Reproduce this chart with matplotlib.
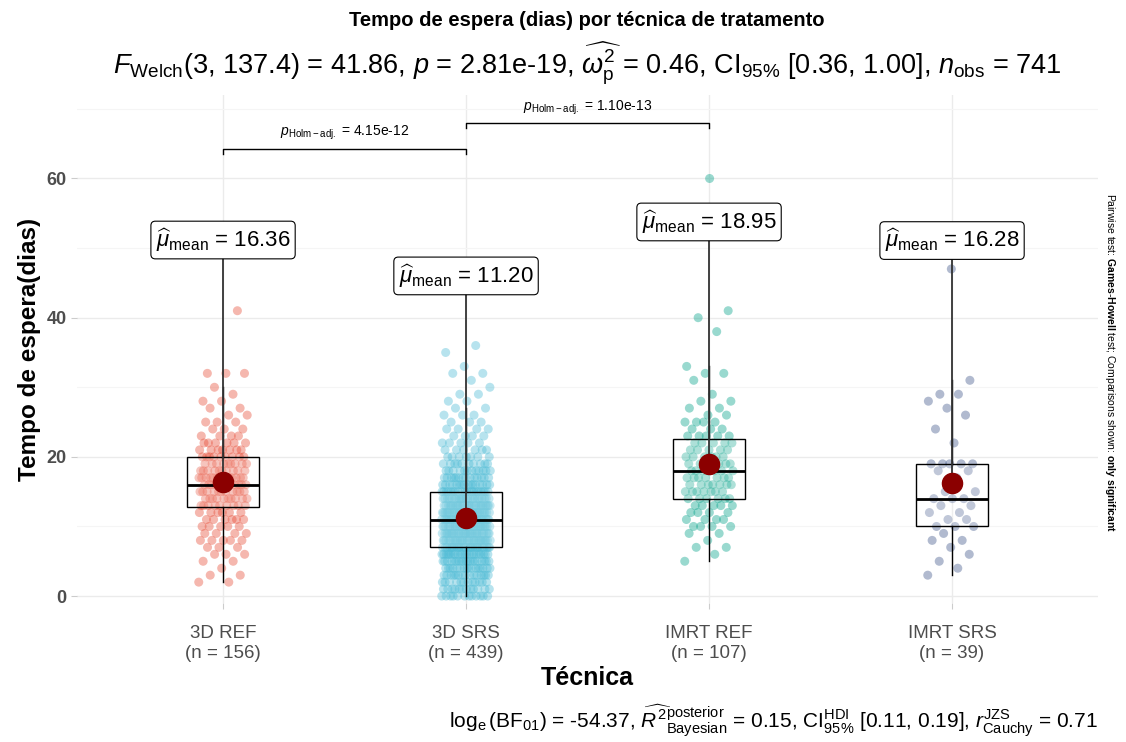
import numpy as np
import matplotlib
matplotlib.use("Agg")
import matplotlib.pyplot as plt

plt.rcParams['font.family'] = ['Liberation Sans', 'DejaVu Sans']
plt.rcParams['mathtext.fontset'] = 'custom'
plt.rcParams['mathtext.rm'] = 'Liberation Sans'
plt.rcParams['mathtext.it'] = 'Liberation Sans:italic'
plt.rcParams['mathtext.bf'] = 'Liberation Sans:bold'

# dados: tempo de espera (dias) -> valor e frequencia por tecnica
tecnicas = ['3D REF', '3D SRS', 'IMRT REF', 'IMRT SRS']
ref3d_val = [2, 3, 4, 5, 6, 7, 8, 9, 10, 11, 12, 13, 14, 15, 16, 17, 18, 19, 20, 21, 22, 23, 24, 25, 26, 27, 28, 29, 30, 32, 41]
ref3d_cnt = [2, 2, 1, 2, 3, 3, 5, 4, 5, 6, 6, 9, 10, 11, 12, 12, 10, 9, 9, 7, 6, 4, 3, 3, 2, 2, 2, 1, 1, 3, 1]
srs3d_val = [0, 1, 2, 3, 4, 5, 6, 7, 8, 9, 10, 11, 12, 13, 14, 15, 16, 17, 18, 19, 20, 21, 22, 23, 24, 25, 26, 27, 28, 29, 30, 31, 32, 33, 35, 36]
srs3d_cnt = [12, 12, 12, 15, 16, 19, 22, 26, 27, 28, 28, 29, 28, 26, 22, 20, 16, 14, 12, 10, 7, 6, 5, 4, 4, 3, 3, 2, 2, 2, 1, 1, 2, 1, 1, 1]
refimrt_val = [5, 6, 7, 8, 9, 10, 11, 12, 13, 14, 15, 16, 17, 18, 19, 20, 21, 22, 23, 24, 25, 26, 27, 28, 29, 31, 32, 33, 38, 40, 41, 60]
refimrt_cnt = [1, 1, 2, 1, 2, 4, 4, 4, 5, 6, 7, 7, 7, 7, 6, 6, 5, 5, 5, 3, 4, 2, 2, 2, 1, 1, 2, 1, 1, 1, 1, 1]
srsimrt_val = [3, 4, 5, 6, 7, 8, 9, 10, 11, 12, 13, 14, 15, 17, 18, 19, 22, 24, 26, 27, 28, 29, 31, 47]
srsimrt_cnt = [1, 1, 1, 1, 1, 2, 1, 3, 2, 2, 2, 3, 2, 1, 2, 5, 1, 1, 1, 1, 1, 2, 1, 1]

cores = ['#E64B35', '#4DBBD5', '#00A087', '#3C5488']

grupos = [np.repeat(ref3d_val, ref3d_cnt), np.repeat(srs3d_val, srs3d_cnt),
          np.repeat(refimrt_val, refimrt_cnt), np.repeat(srsimrt_val, srsimrt_cnt)]

fig = plt.figure(figsize=(11.26, 7.42), dpi=100)
ax = fig.add_axes([0.0686, 0.1873, 0.9064, 0.6847])

pos = np.arange(1, 5)
for i, (g, c) in enumerate(zip(grupos, cores)):
    # deslocamento horizontal deterministico (sequencia aurea)
    k = np.arange(len(g))
    dx = ((k * 0.6180339887) % 1 - 0.5) * 0.2
    ax.scatter(pos[i] + dx, g, s=42, color=c, alpha=0.4, edgecolors='none', zorder=2)

bp = ax.boxplot(grupos, positions=pos, widths=0.3, showfliers=False, patch_artist=True,
                whis=1.5, showcaps=False,
                boxprops=dict(facecolor=(1, 1, 1, 0.2), edgecolor='black', linewidth=1.0),
                medianprops=dict(color='black', linewidth=2.0),
                whiskerprops=dict(color='black', linewidth=1.0), zorder=3)

medias = [g.mean() for g in grupos]
ax.scatter(pos, medias, s=210, color='#8B0000', zorder=5)

# rotulos das medias (deslocados como no ggrepel)
for i, m in enumerate(medias):
    ly = m + 34.8
    ax.plot([pos[i], pos[i]], [m, ly], color='#333333', lw=1.3, zorder=4)
    ax.text(pos[i], ly, r'$\widehat{\mu}_{\mathrm{mean}}$ = %.2f' % m, ha='center', va='center',
            fontsize=16, zorder=6,
            bbox=dict(boxstyle='round,pad=0.22,rounding_size=0.2', fc='white', ec='black', lw=0.8))

# comparacoes par a par
comp = [(1, 2, 64.3, r'$p_{\mathrm{Holm-adj.}}$ = 4.15e-12'),
        (2, 3, 68.0, r'$p_{\mathrm{Holm-adj.}}$ = 1.10e-13')]
for a, b, y, lab in comp:
    ax.plot([a, a, b, b], [y - 0.8, y, y, y - 0.8], color='black', lw=1.0, zorder=4)
    ax.text((a + b) / 2, y + 0.9, lab, ha='center', va='bottom', fontsize=10)

ax.set_xlim(0.4, 4.6)
ax.set_ylim(-1, 72)
ax.set_yticks([0, 20, 40, 60])
ax.set_yticks([10, 30, 50, 70], minor=True)
ax.set_xticks(pos)
ax.set_xticklabels(['%s\n(n = %d)' % (t, len(g)) for t, g in zip(tecnicas, grupos)],
                   fontsize=13.5, color='#4D4D4D', linespacing=1.2)
ax.tick_params(axis='y', labelsize=13, labelcolor='#4D4D4D', color='#CCCCCC', length=4)
ax.tick_params(axis='x', color='#CCCCCC', length=4, pad=12)
ax.tick_params(axis='y', which='minor', length=0)
for lab in ax.get_yticklabels():
    lab.set_fontweight('bold')
for s in ax.spines.values():
    s.set_visible(False)
ax.grid(which='major', color='#EBEBEB', lw=1.0)
ax.grid(which='minor', axis='y', color='#F5F5F5', lw=0.8)
ax.set_axisbelow(True)

ax.set_xlabel('Técnica', fontsize=18, fontweight='bold', labelpad=3)
ax.set_ylabel('Tempo de espera(dias)', fontsize=17.5, fontweight='bold', labelpad=4)

fig.text(0.5215, 0.972, 'Tempo de espera (dias) por técnica de tratamento', ha='center', va='center',
         fontsize=14.5, fontweight='bold')
fig.text(0.5215, 0.915,
         r'$\mathit{F}_{\mathrm{Welch}}$(3, 137.4) = 41.86, $\mathit{p}$ = 2.81e-19, '
         r'$\widehat{\omega_{\mathrm{p}}^{2}}$ = 0.46, CI$_{95\%}$ [0.36, 1.00], $\mathit{n}_{\mathrm{obs}}$ = 741',
         ha='center', va='center', fontsize=19.5)
fig.text(0.975, 0.028,
         r'$\log_{\mathrm{e}}(\mathrm{BF}_{01})$ = -54.37, $\widehat{R^{2}}^{\mathrm{posterior}}_{\mathrm{Bayesian}}$ = 0.15, '
         r'CI$^{\mathrm{HDI}}_{95\%}$ [0.11, 0.19], $\mathit{r}^{\mathrm{JZS}}_{\mathrm{Cauchy}}$ = 0.71',
         ha='right', va='center', fontsize=15)
fig.text(0.986, 0.512,
         r'Pairwise test: $\mathbf{Games}$-$\mathbf{Howell}$ test; Comparisons shown: $\mathbf{only\ significant}$',
         rotation=-90, ha='center', va='center', fontsize=7.5)

fig.savefig('out.png', dpi=100, facecolor='white')
